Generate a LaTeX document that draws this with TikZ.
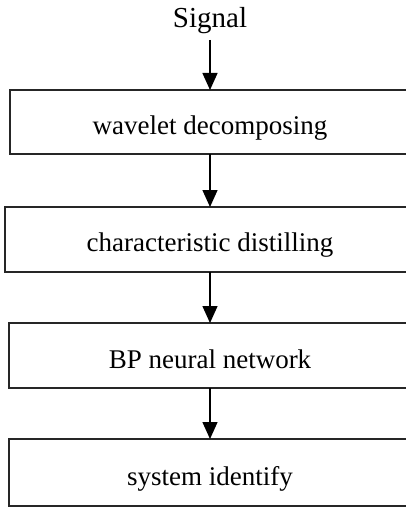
\documentclass[tikz,border=0pt]{standalone}
\usepackage{fontspec}
\setmainfont{Liberation Serif}
\usetikzlibrary{arrows.meta}
\begin{document}
\begin{tikzpicture}[x=1pt,y=-1pt,
  box/.style={draw=black!85,line width=1.7pt},
  lbl/.style={anchor=base,inner sep=0pt,font=\fontsize{27}{30}\selectfont},
  arr/.style={line width=1.4pt,-{Triangle[width=15pt,length=17pt]}}]
\useasboundingbox (0,0) rectangle (406,508);
\clip (0,0) rectangle (406,508);
% boxes
\draw[box] (10,90) rectangle (412,154);
\draw[box] (5,207) rectangle (415,272);
\draw[box] (9,323) rectangle (411,388);
\draw[box] (9,439) rectangle (411,506);
\coordinate (b1t) at (210,90);
\coordinate (b1b) at (210,154);
\coordinate (b2t) at (210,207);
\coordinate (b2b) at (210,272);
\coordinate (b3t) at (210,323);
\coordinate (b3b) at (210,388);
\coordinate (b4t) at (210,439);
\node[lbl,font=\fontsize{29}{32}\selectfont] (sig) at (210,28) {Signal};
\node[lbl] (t1) at (210,135) {wavelet decomposing};
\node[lbl] (t2) at (210,251) {characteristic distilling};
\node[lbl] (t3) at (210,368) {BP neural network};
\node[lbl] (t4) at (210,485) {system identify};
\coordinate (s0) at (210,40);
\draw[arr] (s0) -- (b1t);
\draw[arr] (b1b) -- (b2t);
\draw[arr] (b2b) -- (b3t);
\draw[arr] (b3b) -- (b4t);
\end{tikzpicture}
\end{document}
